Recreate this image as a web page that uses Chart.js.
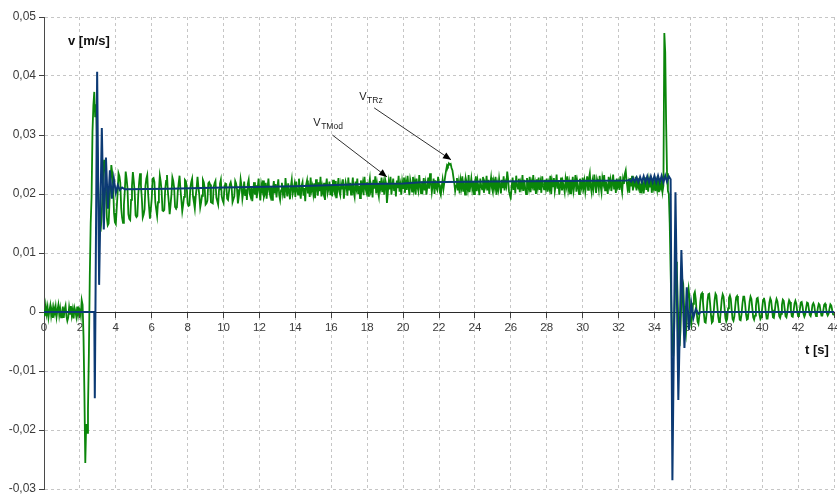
<!DOCTYPE html>
<html>
<head>
<meta charset="utf-8">
<script src="https://cdn.jsdelivr.net/npm/chart.js@4.4.1/dist/chart.umd.min.js"></script>
<style>
  html, body { margin: 0; padding: 0; background: #ffffff; }
  canvas { display: block; }
</style>
</head>
<body>
<canvas id="chart" width="837" height="497"></canvas>
<script>
// Measured speed v_TRz, sampled every 0.05 s from t = 0 s, in units of 1e-4 m/s
const SAMPLE_STEP = 0.05;
const SPEED_UNIT = 1e-4;
const measuredSpeed = [
  // 0 s
  4, -7, 10, -3, 8, -9, 2, 11, -6, 5, -10, 7, -2, 9, -8, 3, 12, -5, 6, -9,
  // 1 s
  -4, 9, -10, 5, 11, -7, -15, -9, 8, -3, 10, -6, 4, -11, 7, 1, -8, 9, -5, 6,
  // 2 s
  3, -6, 20, 12, -40, -137, -256, -190, -205, -165, -70, 60, 150, 195, 305, 350, 373, 330, 352, 290,
  // 3 s
  240, 178, 152, 136, 158, 192, 241, 258, 239, 210, 160, 147, 150, 188, 218, 249, 236, 215, 168, 152,
  // 4 s
  149, 176, 201, 235, 230, 219, 176, 160, 151, 181, 205, 238, 226, 210, 166, 158, 156, 190, 214, 237,
  // 5 s
  222, 203, 164, 161, 163, 199, 220, 235, 214, 192, 160, 165, 174, 214, 226, 232, 200, 178, 158, 174,
  // 6 s
  192, 226, 227, 220, 186, 174, 163, 186, 206, 231, 221, 205, 172, 171, 173, 208, 222, 232, 204, 186,
  // 7 s
  166, 182, 200, 228, 222, 210, 178, 176, 177, 204, 218, 231, 208, 190, 171, 182, 195, 224, 222, 213,
  // 8 s
  184, 180, 181, 210, 220, 226, 196, 186, 175, 196, 210, 229, 212, 198, 177, 186, 197, 224, 220, 210,
  // 9 s
  182, 184, 189, 218, 220, 216, 186, 185, 184, 212, 218, 222, 194, 188, 182, 208, 217, 224, 196, 189,
  // 10 s
  185, 210, 218, 217, 192, 190, 190, 216, 220, 212, 186, 191, 196, 222, 218, 208, 184, 196, 206, 225,
  // 11 s
  214, 192, 203, 221, 198, 208, 190, 217, 224, 201, 196, 212, 188, 205, 220, 199, 215, 193, 209, 226,
  // 12 s
  203, 189, 216, 207, 223, 195, 200, 219, 192, 211, 226, 204, 197, 213, 190, 208, 222, 201, 217, 194,
  // 13 s
  211, 225, 198, 190, 206, 219, 202, 214, 193, 227, 209, 196, 218, 205, 191, 213, 224, 200, 207, 216,
  // 14 s
  195, 221, 208, 199, 226, 204, 192, 214, 220, 197, 210, 188, 216, 223, 201, 209, 195, 228, 206, 213,
  // 15 s
  200, 218, 193, 225, 211, 197, 220, 205, 229, 196, 212, 203, 219, 190, 214, 226, 202, 209, 221, 198,
  // 16 s
  215, 196, 224, 207, 201, 222, 193, 211, 227, 204, 198, 217, 209, 225, 192, 206, 220, 213, 197, 228,
  // 17 s
  206, 219, 199, 212, 228, 203, 195, 221, 210, 226, 200, 214, 193, 223, 208, 218, 198, 229, 211, 204,
  // 18 s
  220, 197, 215, 226, 206, 213, 194, 224, 209, 230, 201, 217, 205, 196, 222, 211, 228, 203, 216, 199,
  // 19 s
  225, 218, 185, 202, 220, 208, 229, 199, 214, 226, 205, 217, 196, 223, 210, 231, 204, 215, 199, 221,
  // 20 s
  210, 228, 202, 219, 207, 231, 213, 198, 224, 216, 204, 229, 209, 220, 199, 226, 212, 205, 232, 215,
  // 21 s
  201, 221, 210, 227, 206, 218, 199, 213, 228, 209, 235, 220, 203, 215, 226, 200, 223, 211, 207, 229,
  // 22 s
  216, 203, 198, 212, 224, 209, 220, 231, 241, 249, 247, 252, 250, 251, 244, 240, 229, 219, 205, 214,
  // 23 s
  227, 206, 219, 201, 223, 212, 230, 204, 216, 199, 225, 218, 208, 232, 203, 214, 226, 209, 221, 200,
  // 24 s
  217, 230, 205, 222, 211, 198, 226, 214, 208, 229, 202, 219, 213, 231, 206, 224, 200, 216, 228, 210,
  // 25 s
  203, 221, 212, 229, 199, 217, 208, 226, 214, 201, 224, 210, 230, 206, 219, 213, 238, 225, 204, 198,
  // 26 s
  195, 214, 228, 207, 222, 201, 231, 216, 209, 226, 203, 219, 212, 232, 205, 224, 210, 200, 227, 218,
  // 27 s
  209, 229, 203, 220, 214, 232, 206, 217, 200, 225, 212, 228, 207, 219, 202, 230, 215, 208, 224, 211,
  // 28 s
  226, 204, 218, 210, 231, 200, 222, 213, 227, 205, 216, 233, 209, 221, 199, 214, 228, 206, 220, 212,
  // 29 s
  203, 225, 214, 230, 208, 219, 201, 224, 211, 229, 206, 217, 232, 204, 222, 213, 200, 226, 215, 209,
  // 30 s
  228, 211, 222, 204, 217, 230, 207, 226, 235, 213, 203, 221, 210, 233, 216, 202, 225, 219, 208, 231,
  // 31 s
  214, 203, 227, 218, 232, 206, 221, 211, 200, 229, 215, 224, 205, 218, 233, 209, 222, 202, 226, 213,
  // 32 s
  220, 207, 230, 214, 203, 225, 217, 234, 240, 222, 209, 218, 202, 227, 213, 231, 206, 221, 216, 229,
  // 33 s
  206, 221, 213, 227, 203, 218, 209, 224, 201, 216, 228, 207, 220, 204, 223, 211, 229, 202, 217, 210,
  // 34 s
  224, 205, 219, 208, 226, 203, 215, 210, 225, 204, 214, 473, 440, 320, 235, 205, 200, 150, 70, 0,
  // 35 s
  -60, -75, -30, 40, 85, 70, 15, -40, -58, -30, 20, 55, 48, 10, -28, -38, -12, 28, 40, 24,
  // 36 s
  -10, -20, -8, 14, 30, 34, 22, 0, -16, -20, -6, 16, 30, 32, 18, -2, -17, -18, -4, 18,
  // 37 s
  30, 31, 14, -6, -18, -16, 0, 20, 31, 28, 10, -8, -17, -14, 4, 22, 30, 26, 8, -10,
  // 38 s
  -16, -12, 6, 24, 28, 22, 4, -12, -15, -8, 10, 25, 27, 18, 0, -13, -14, -4, 14, 26,
  // 39 s
  26, 14, -4, -13, -12, 2, 18, 26, 22, 6, -9, -13, -6, 10, 23, 24, 12, -5, -12, -9,
  // 40 s
  6, 20, 24, 16, 0, -11, -11, 0, 16, 23, 19, 4, -9, -10, 1, 15, 22, 18, 6, -7,
  // 41 s
  -10, -3, 12, 21, 19, 6, -7, -9, -1, 13, 20, 17, 3, -7, -8, 2, 14, 19, 14, 1,
  // 42 s
  -7, -6, 5, 16, 17, 9, -3, -8, -4, 8, 16, 15, 5, -5, -7, 0, 12, 15, 11, -1,
  // 43 s
  -7, -4, 7, 14, 12, 2, -6, -6, 2, 12, 14, 8, -2, -6, -3, 6, 13, 11, 3, -4,
  // 44 s
  -5
];

// Model speed v_TMod: breakpoints in time [s] and speed in units of 1e-4 m/s
const modelTime = [
  0, 2.80, 2.83, 2.96, 3.07, 3.22, 3.33, 3.45, 3.56, 3.67, 3.78, 3.89, 4.00, 4.11, 4.22, 4.35, 4.50,
  7, 10, 14, 18, 20, 21, 25, 29, 32.5,
  32.6, 32.7, 32.8, 32.9, 33.0, 33.1, 33.2, 33.3, 33.4, 33.5, 33.6, 33.7, 33.8, 33.9,
  34.0, 34.1, 34.2, 34.3, 34.4, 34.5, 34.6, 34.7, 34.8, 34.9,
  35.00, 35.17, 35.33, 35.50, 35.67, 35.80, 35.92, 36.05, 36.17, 36.30, 36.45, 36.60, 44
];
const modelSpeed = [
  0, 0, -146, 407, 46, 312, 140, 262, 175, 240, 192, 226, 202, 215, 207, 211, 208,
  209, 211, 213, 217, 218, 220, 221, 222, 223,
  224, 221, 227, 221, 228, 220, 229, 220, 230, 220, 230, 220, 230, 220,
  231, 220, 231, 220, 231, 220, 231, 221, 230, 225,
  -285, 203, -149, 105, -61, 42, -30, 15, -10, 5, -3, 0, 0
];

// Axis ranges and tick spacing
const timeAxis = { min: 0, max: 44, step: 2 };
const speedAxis = { min: -0.03, max: 0.05, step: 0.01 };

// Callout labels pointing at the two curves (anchors in data units: [t, v])
const callouts = [
  { main: 'V', sub: 'TMod', text: [15.0, 0.0315], from: [16.06, 0.0300], to: [19.1, 0.0229] },
  { main: 'V', sub: 'TRz', text: [17.56, 0.0359], from: [18.39, 0.0346], to: [22.67, 0.0258] }
];

const measuredPoints = measuredSpeed.map((v, i) => ({
  x: Math.round(i * SAMPLE_STEP * 100) / 100,
  y: v * SPEED_UNIT
}));
const modelPoints = modelTime.map((t, i) => ({ x: t, y: modelSpeed[i] * SPEED_UNIT }));

const TEXT_COLOR = '#3a3a3a';
const GRID_COLOR = '#c6c6c6';
const FONT = '"Liberation Sans", Arial, sans-serif';

const calloutPlugin = {
  id: 'callouts',
  afterDatasetsDraw(chart) {
    const { ctx, scales: { x, y }, chartArea } = chart;
    ctx.save();
    callouts.forEach(c => {
      const x1 = x.getPixelForValue(c.from[0]), y1 = y.getPixelForValue(c.from[1]);
      const x2 = x.getPixelForValue(c.to[0]), y2 = y.getPixelForValue(c.to[1]);
      ctx.strokeStyle = '#303030';
      ctx.fillStyle = '#000000';
      ctx.lineWidth = 1;
      ctx.beginPath();
      ctx.moveTo(x1, y1);
      ctx.lineTo(x2, y2);
      ctx.stroke();
      const ang = Math.atan2(y2 - y1, x2 - x1);
      const len = 8, half = 3.5;
      ctx.beginPath();
      ctx.moveTo(x2, y2);
      ctx.lineTo(x2 - len * Math.cos(ang) + half * Math.sin(ang), y2 - len * Math.sin(ang) - half * Math.cos(ang));
      ctx.lineTo(x2 - len * Math.cos(ang) - half * Math.sin(ang), y2 - len * Math.sin(ang) + half * Math.cos(ang));
      ctx.closePath();
      ctx.fill();
      const tx = x.getPixelForValue(c.text[0]), ty = y.getPixelForValue(c.text[1]);
      ctx.fillStyle = '#222222';
      ctx.textBaseline = 'alphabetic';
      ctx.textAlign = 'left';
      ctx.font = '11px ' + FONT;
      ctx.fillText(c.main, tx, ty);
      const w = ctx.measureText(c.main).width;
      ctx.font = '8.5px ' + FONT;
      ctx.fillText(c.sub, tx + w + 0.5, ty + 3);
    });
    // axis titles
    ctx.fillStyle = '#111111';
    ctx.font = 'bold 13px ' + FONT;
    ctx.textBaseline = 'middle';
    ctx.textAlign = 'left';
    ctx.fillText('v [m/s]', chartArea.left + 24, chartArea.top + 24);
    ctx.fillText('t [s]', chartArea.right - 29, y.getPixelForValue(0) + 38);
    ctx.restore();
  }
};

new Chart(document.getElementById('chart'), {
  type: 'line',
  data: {
    datasets: [
      {
        label: 'vTRz',
        data: measuredPoints,
        borderColor: '#0a860a',
        borderWidth: 1.8,
        pointRadius: 0,
        tension: 0,
        order: 1
      },
      {
        label: 'vTMod',
        data: modelPoints,
        borderColor: '#0c3a74',
        borderWidth: 2,
        pointRadius: 0,
        tension: 0,
        order: 0
      }
    ]
  },
  options: {
    responsive: false,
    animation: false,
    events: [],
    layout: { padding: { top: 17, bottom: 8, left: 0, right: 3 } },
    plugins: { legend: { display: false }, tooltip: { enabled: false } },
    scales: {
      x: {
        type: 'linear',
        min: timeAxis.min,
        max: timeAxis.max,
        position: { y: 0 },
        afterFit(scale) { scale.paddingLeft = 0; scale.paddingRight = 0; },
        ticks: {
          stepSize: timeAxis.step,
          autoSkip: false,
          maxRotation: 0,
          padding: 4,
          color: TEXT_COLOR,
          font: { family: FONT, size: 11.5 }
        },
        grid: {
          color: ctx => (ctx.tick && ctx.tick.value === 0 ? 'rgba(0,0,0,0)' : GRID_COLOR),
          tickColor: '#404040',
          tickLength: 5,
          lineWidth: 1
        },
        border: { color: '#2a2a2a', width: 1, dash: [3, 3] }
      },
      y: {
        type: 'linear',
        min: speedAxis.min,
        max: speedAxis.max,
        afterFit(scale) { scale.width = 44; scale.paddingTop = 0; scale.paddingBottom = 0; },
        ticks: {
          stepSize: speedAxis.step,
          padding: 3,
          color: TEXT_COLOR,
          font: { family: FONT, size: 12 },
          callback(v) {
            const r = Math.round(v * 100) / 100;
            return r === 0 ? '0' : r.toFixed(2).replace('.', ',');
          }
        },
        grid: {
          color: ctx => (ctx.tick && Math.abs(ctx.tick.value) < 1e-9 ? 'rgba(0,0,0,0)' : GRID_COLOR),
          tickColor: '#404040',
          tickLength: 5,
          lineWidth: 1
        },
        border: { color: '#4a4a4a', width: 1, dash: [3, 3] }
      }
    }
  },
  plugins: [calloutPlugin]
});
</script>
</body>
</html>
